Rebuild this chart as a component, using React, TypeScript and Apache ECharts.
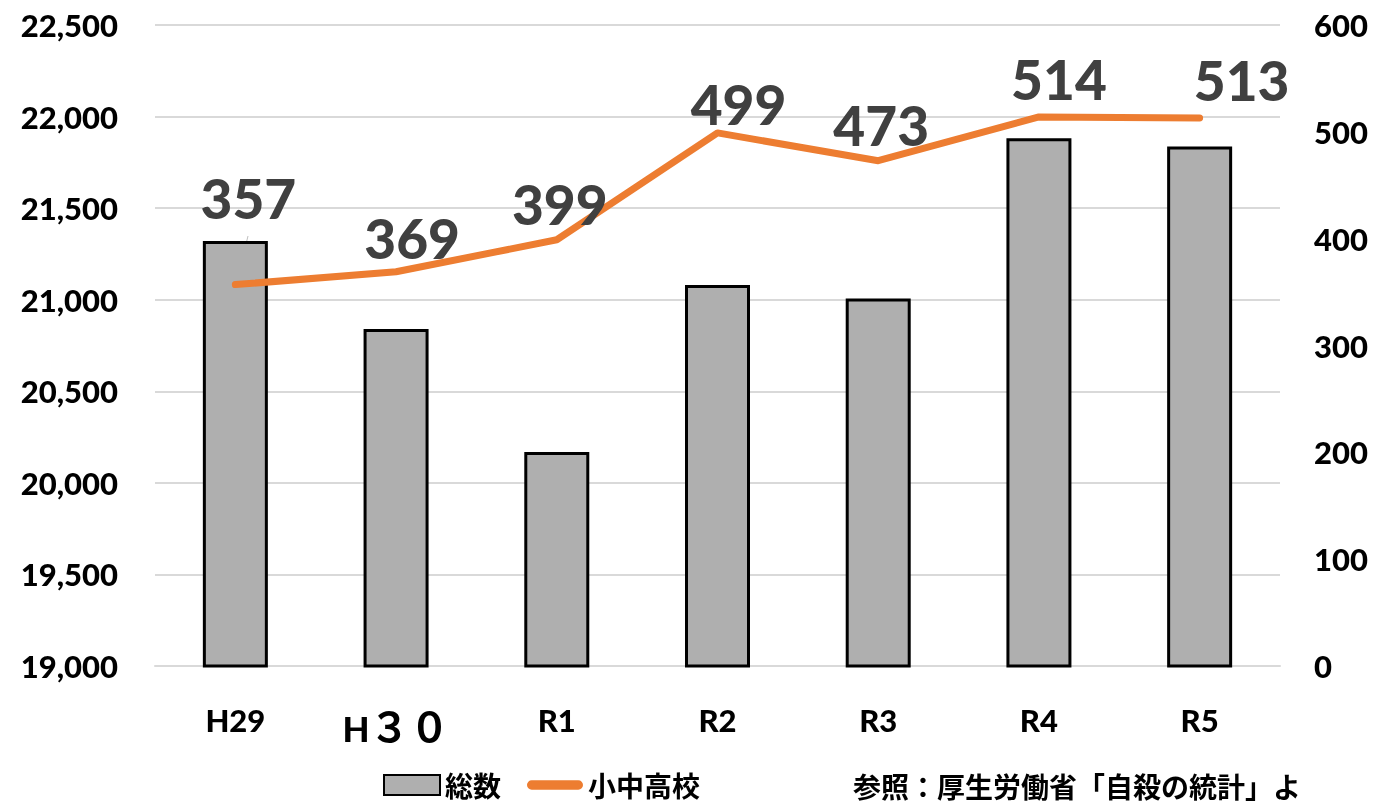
import React, { useEffect, useRef } from "react";
import * as echarts from "echarts";

const categories = ["H29", "H30", "R1", "R2", "R3", "R4", "R5"];
const totalValues = [21321, 20840, 20169, 21081, 21007, 21881, 21837];
const schoolValues = [357, 369, 399, 499, 473, 514, 513];
const labelOffsets = [
  [13, -54],
  [16, -1],
  [3, -3],
  [21, 4],
  [3, -3],
  [20, -5],
  [42, -5],
];
const sourceText = "参照：厚生労働省「自殺の統計」よ";

export default function App() {
  const ref = useRef<HTMLDivElement>(null);
  useEffect(() => {
    if (!ref.current) return;
    const chart = echarts.init(ref.current, null, { renderer: "svg" });
    const numFont = "Lato, 'Open Sans', sans-serif";
    const cjkFont = "'Noto Sans CJK JP', sans-serif";
    const axisFont = { fontFamily: numFont, fontSize: 31, fontWeight: 900, color: "#000" };
    chart.setOption({
      animation: false,
      grid: { left: 155, right: 96, top: 25, bottom: 140 },
      legend: {
        left: 383,
        top: 771,
        padding: 0,
        itemWidth: 56,
        itemHeight: 20,
        itemGap: 26,
        textStyle: { fontFamily: cjkFont, fontSize: 28, fontWeight: "bold", color: "#000", lineHeight: 28 },
        data: [
          { name: "総数", icon: "rect" },
          {
            name: "小中高校",
            icon: "path://M5,0 L55,0 A5,5 0 0 1 55,10 L5,10 A5,5 0 0 1 5,0 Z",
            itemStyle: { color: "#ED7D31", borderWidth: 0 },
          },
        ],
      },
      xAxis: {
        type: "category",
        data: categories,
        axisLine: { show: true, lineStyle: { color: "#d9d9d9", width: 2 } },
        axisTick: { show: false },
        axisLabel: {
          interval: 0,
          margin: 38,
          ...axisFont,
          formatter: (v: string) => (v === "H30" ? "{h|H}{d|３０}" : v),
          rich: {
            h: { fontFamily: numFont, fontSize: 35, fontWeight: 900, color: "#000", padding: [6, 0, 0, 0], verticalAlign: "bottom" },
            d: { fontFamily: cjkFont, fontSize: 40, fontWeight: "bold", color: "#000", padding: [0, 0, 0, 0], verticalAlign: "bottom" },
          },
        },
      },
      yAxis: [
        {
          type: "value",
          min: 19000,
          max: 22500,
          interval: 500,
          axisLine: { show: false },
          axisTick: { show: false },
          splitLine: { lineStyle: { color: "#d9d9d9", width: 2 } },
          axisLabel: {
            margin: 37,
            ...axisFont,
            formatter: (v: number) => v.toLocaleString("en-US"),
          },
        },
        {
          type: "value",
          min: 0,
          max: 600,
          interval: 100,
          axisLine: { show: false },
          axisTick: { show: false },
          splitLine: { show: false },
          axisLabel: { margin: 34, ...axisFont },
        },
      ],
      series: [
        {
          name: "総数",
          type: "bar",
          data: totalValues,
          barWidth: 65,
          itemStyle: { color: "#afafaf", borderColor: "#000", borderWidth: 3 },
        },
        {
          name: "小中高校",
          type: "line",
          yAxisIndex: 1,
          data: schoolValues.map((v, i) => ({
            value: v,
            label: { offset: labelOffsets[i] },
          })),
          symbol: "circle",
          symbolSize: 1,
          showSymbol: true,
          itemStyle: { color: "#ED7D31" },
          lineStyle: { color: "#ED7D31", width: 7, cap: "round", join: "round" },
          label: {
            show: true,
            position: "top",
            distance: 5,
            fontFamily: numFont,
            fontSize: 55,
            fontWeight: 900,
            color: "#404040",
          },
        },
      ],
      graphic: [
        {
          type: "line",
          shape: { x1: 248, y1: 236, x2: 236, y2: 284 },
          style: { stroke: "#bfbfbf", lineWidth: 1 },
          z: 1,
        },
        {
          type: "text",
          left: 853,
          top: 772,
          style: {
            text: sourceText,
            fontFamily: cjkFont,
            fontSize: 28,
            fontWeight: "bold",
            fill: "#000",
          },
        },
      ],
    });
    return () => chart.dispose();
  }, []);
  return <div ref={ref} style={{ position: "fixed", left: 0, top: 0, width: 1376, height: 806 }} />;
}
